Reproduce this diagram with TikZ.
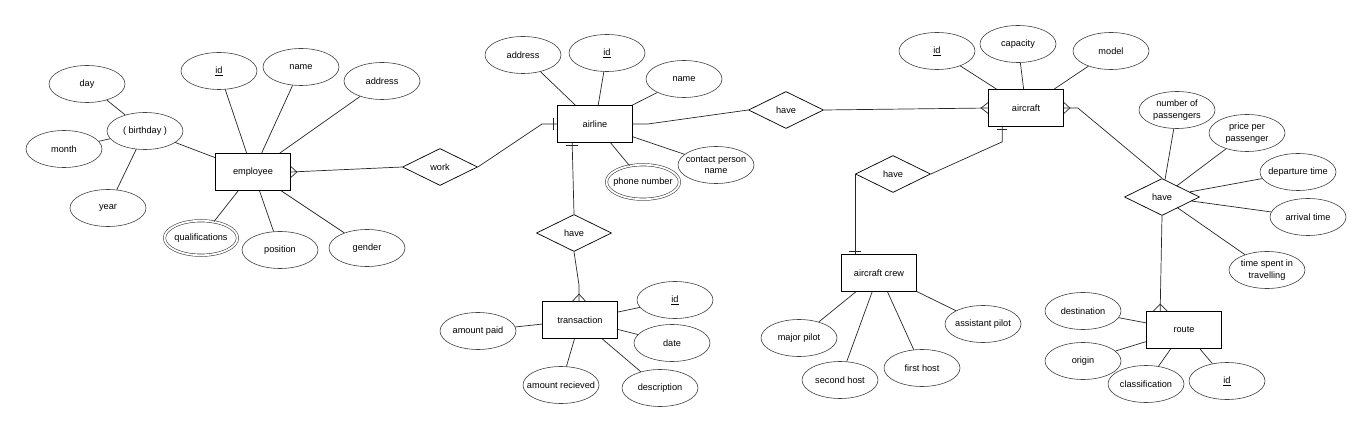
\documentclass[tikz,border=0pt]{standalone}
\usepackage{fontspec}
\setmainfont{Liberation Sans}
\usetikzlibrary{shapes.geometric,calc}
\begin{document}
\begin{tikzpicture}[x=1pt,y=-1pt,
 lbl/.style={font=\fontsize{9.2}{11.5}\selectfont,align=center,inner sep=0pt},
 attr/.style={ellipse,draw=black!75,line width=0.6pt,minimum width=76pt,minimum height=37pt,inner sep=0pt,
   label={[lbl]center:#1}},
 mattr/.style={attr=#1,double,double distance=1.8pt,minimum width=73pt,minimum height=34.5pt},
 ent/.style={lbl,rectangle,draw=black,line width=0.7pt,minimum width=75pt,minimum height=37pt},
 rel/.style={lbl,diamond,draw=black,line width=0.7pt,minimum width=75pt,minimum height=37pt},
 conn/.style={draw=black!85,line width=0.7pt},
]
\useasboundingbox (0,0) rectangle (1367,430);
% employee
\node[ent] (emp) at (253,172) {employee};
\node[attr={\underline{id}}] (eid) at (219,71) {};
\node[attr={name}] (ename) at (301,67) {};
\node[attr={address}] (eaddr) at (382,81) {};
\node[attr={( birthday )}] (bday) at (145,131) {};
\node[attr={day}] (day) at (87,84) {};
\node[attr={month}] (month) at (64,149) {};
\node[attr={year}] (year) at (108,208) {};
\node[mattr={qualifications}] (qual) at (201,238) {};
\node[attr={position}] (pos) at (280,250) {};
\node[attr={gender}] (gender) at (367,248) {};
\node[rel] (work) at (440,167) {work};
% airline
\node[ent] (air) at (595,124) {airline};
\node[attr={address}] (aaddr) at (523,55) {};
\node[attr={\underline{id}}] (aid) at (607,53) {};
\node[attr={name}] (aname) at (684,79) {};
\node[attr={contact person\\name}] (contact) at (716,165) {};
\node[mattr={phone number}] (phone) at (643,182) {};
% transaction
\node[rel] (have2) at (574,233) {have};
\node[ent] (trans) at (580,320) {transaction};
\node[attr={\underline{id}}] (tid) at (675,300) {};
\node[attr={date}] (tdate) at (672,343) {};
\node[attr={description}] (tdesc) at (660,388) {};
\node[attr={amount recieved}] (trec) at (561,385) {};
\node[attr={amount paid}] (tpaid) at (478,331) {};
% aircraft
\node[rel] (have3) at (786,110) {have};
\node[ent] (acft) at (1026,108) {aircraft};
\node[attr={\underline{id}}] (acid) at (937,51) {};
\node[attr={capacity}] (cap) at (1018,44) {};
\node[attr={model}] (model) at (1111,51) {};
% crew
\node[rel] (have4) at (893,174) {have};
\node[ent] (crew) at (879,273) {aircraft crew};
\node[attr={major pilot}] (major) at (799,338) {};
\node[attr={second host}] (second) at (840,380) {};
\node[attr={first host}] (first) at (922,368) {};
\node[attr={assistant pilot}] (assist) at (983,324) {};
% route relation
\node[rel] (have5) at (1162,197) {have};
\node[attr={number of\\passengers}] (nop) at (1177,110) {};
\node[attr={price per\\passenger}] (ppp) at (1247,133) {};
\node[attr={departure time}] (dep) at (1298,172) {};
\node[attr={arrival time}] (arr) at (1308,217) {};
\node[attr={time spent in\\travelling}] (tst) at (1267,270) {};
\node[ent] (route) at (1184,330) {route};
\node[attr={destination}] (dest) at (1083,311) {};
\node[attr={origin}] (orig) at (1083,361) {};
\node[attr={classification}] (cls) at (1146,384) {};
\node[attr={\underline{id}}] (rid) at (1227,381) {};

% attribute lines
\foreach \a/\b in {eid/emp,ename/emp,eaddr/emp,bday/emp,day/bday,month/bday,year/bday,qual/emp,pos/emp,gender/emp,
  aaddr/air,aid/air,aname/air,contact/air,phone/air,
  tid/trans,tdate/trans,tdesc/trans,trec/trans,tpaid/trans,
  acid/acft,cap/acft,model/acft,
  major/crew,second/crew,first/crew,assist/crew,
  nop/have5,ppp/have5,dep/have5,arr/have5,tst/have5,
  dest/route,orig/route,cls/route,rid/route}
  \draw[conn] (\a) -- (\b);

% employee - work - airline
\draw[conn] (emp.east) -- (work.west);
\draw[conn] ($(emp.east)+(0,-5.5)$) -- ($(emp.east)+(6,0)$) -- ($(emp.east)+(0,5.5)$);
\coordinate (w1) at (542,124);
\draw[conn] (work.east) -- (w1) -- (air.west);
\draw[conn] ($(air.west)+(-4,-6)$) -- ($(air.west)+(-4,6)$);

% airline - have - transaction
\coordinate (a2) at ($(air.south west)+(15,0)$);
\draw[conn] (a2) -- (have2.north);
\draw[conn] ($(a2)+(-6,3)$) -- ($(a2)+(6,3)$);
\coordinate (t1) at ($(trans.north)+(-1,-16)$);
\coordinate (t2) at ($(trans.north)+(-1,0)$);
\draw[conn] (have2.south) -- (t1) -- (t2);
\draw[conn] ($(t2)+(-6.5,0)$) -- ($(t2)+(0,-7)$) -- ($(t2)+(6.5,0)$);

% airline - have - aircraft
\coordinate (a3) at ($(air.east)+(15,0)$);
\draw[conn] (air.east) -- (a3) -- (have3.west);
\draw[conn] (have3.east) -- (acft.west);
\draw[conn] ($(acft.west)+(0,-5.5)$) -- ($(acft.west)+(-7,0)$) -- ($(acft.west)+(0,5.5)$);

% aircraft - have - crew
\coordinate (a4) at ($(acft.south west)+(14,0)$);
\coordinate (a4b) at ($(a4)+(0,15)$);
\draw[conn] (a4) -- (a4b) -- (have4.east);
\draw[conn] ($(a4)+(-5,3)$) -- ($(a4)+(5,3)$);
\coordinate (c4) at ($(crew.north west)+(14,0)$);
\draw[conn] (have4.west) -- (c4);
\draw[conn] ($(c4)+(-6,-3)$) -- ($(c4)+(6,-3)$);

% aircraft - have - route
\coordinate (a5) at ($(acft.east)+(14,0)$);
\draw[conn] (acft.east) -- (a5) -- (have5.north);
\draw[conn] ($(acft.east)+(0,-5.5)$) -- ($(acft.east)+(6,0)$) -- ($(acft.east)+(0,5.5)$);
\coordinate (r5) at ($(route.north west)+(14,0)$);
\draw[conn] (have5.south) -- (r5);
\draw[conn] ($(r5)+(-7,0)$) -- ($(r5)+(0,-7)$) -- ($(r5)+(7,0)$);
\end{tikzpicture}
\end{document}
